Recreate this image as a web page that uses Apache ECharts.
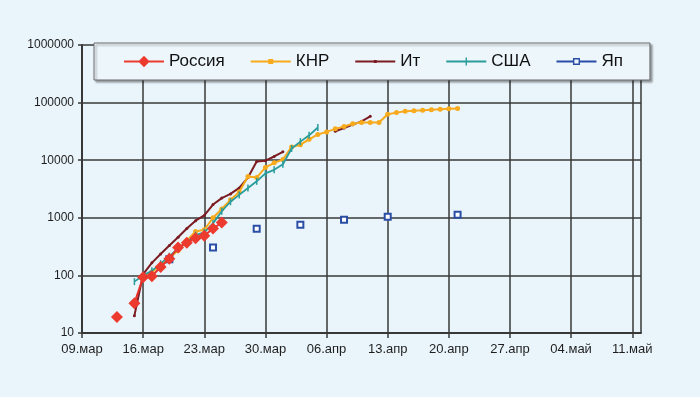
<!DOCTYPE html>
<html>
<head>
<meta charset="utf-8">
<script src="https://cdn.jsdelivr.net/npm/echarts@6/dist/echarts.min.js"></script>
<style>
  html, body { margin: 0; padding: 0; background: #eaf5fb; }
  #chart { width: 700px; height: 397px; }
</style>
</head>
<body>
<div id="chart"></div>
<script>
// x = days since 09.мар
const xTickLabels = ["09.мар", "16.мар", "23.мар", "30.мар", "06.апр", "13.апр", "20.апр", "27.апр", "04.май", "11.май"];
const seriesNames = ["Россия", "КНР", "Ит", "США", "Яп"];

const russiaStart = 4;
const russiaValues = [19, null, 33, 93, 97, 140, 195, 305, 370, 440, 490, 650, 830];

const chinaStart = 7;
const chinaValues = [90, 115, 150, 200, 270, 400, 580, 620, 1000, 1420, 2050, 2800, 5200, 5000, 7500, 9000, 10300,
  17000, 18600, 23000, 28000, 31000, 35000, 38500, 43000, 45000, 45300, 45000, 63000, 67000, 70500, 72500, 74000,
  75500, 77000, 78000, 79000];

const italyStart = 6;
const italyValues = [20, 105, 165, 235, 330, 460, 650, 890, 1100, 1700, 2200, 2600, 3300, 5000, 9500, 9800, 11600, 14000,
  null, null, null, null, null, 31700, 36300, 41400, 47300, 57800];

const usaStart = 6;
const usaValues = [78, 100, 120, 160, 215, 290, 380, 500, 560, 800, 1300, 1900, 2500, 3300, 4300, 5900, 6800, 8500,
  16000, 21000, 27000, 37000];

const japanDays = [10, 15, 20, 25, 30, 35, 43];
const japanValues = [190, 304, 644, 755, 923, 1040, 1127];

function toPairs(start, values) {
  return values.map((v, i) => [start + i, v == null ? "-" : v]);
}

// legend icons: line + marker, like the Excel legend
const lineBar = "M0,5.1H40V6.9H0Z";
const legendIcons = {
  "Россия": "path://" + lineBar + " M20,0.3L25.7,6L20,11.7L14.3,6Z",
  "КНР": "path://" + lineBar + " M17.5,3.5H22.5V8.5H17.5Z",
  "Ит": "path://" + lineBar + " M18.5,4.5H21.5V7.5H18.5Z",
  "США": "path://" + lineBar + " M19.3,2H20.7V10H19.3Z",
  "Яп": "path://M0,5.1H16.5V6.9H0Z M23.5,5.1H40V6.9H23.5Z M16.5,2.5H23.5V3.9H16.5Z M16.5,8.1H23.5V9.5H16.5Z M16.5,2.5H17.9V9.5H16.5Z M22.1,2.5H23.5V9.5H22.1Z"
};

const chart = echarts.init(document.getElementById("chart"));
const font = "Liberation Sans";
const gridColor = "#383838";

chart.setOption({
  animation: false,
  backgroundColor: "#eaf5fb",
  grid: {
    left: 82,
    right: 59,
    top: 45,
    bottom: 64,
    show: false
  },
  legend: {
    left: 94,
    top: 43,
    padding: [10, 27, 10, 30],
    itemGap: 26,
    itemWidth: 40,
    itemHeight: 12,
    backgroundColor: "#edf6fb",
    borderColor: "#6a6a6a",
    borderWidth: 1,
    shadowColor: "rgba(0,0,0,0.35)",
    shadowBlur: 2,
    shadowOffsetX: 2,
    shadowOffsetY: 2,
    itemStyle: { borderWidth: 0 },
    textStyle: { fontFamily: font, fontSize: 17, color: "#111" },
    data: seriesNames.map((name) => ({ name: name, icon: legendIcons[name] }))
  },
  xAxis: {
    type: "value",
    min: 0,
    max: 64,
    interval: 7,
    axisLine: { show: true, lineStyle: { color: gridColor, width: 2 } },
    axisTick: { show: true, length: 5, lineStyle: { color: gridColor, width: 1.5 } },
    splitLine: { show: true, lineStyle: { color: gridColor, width: 1.5 } },
    axisLabel: {
      fontFamily: font,
      fontSize: 13,
      color: "#1e1e1e",
      margin: 10,
      showMaxLabel: false,
      formatter: (v) => (v % 7 === 0 ? xTickLabels[v / 7] : "")
    }
  },
  yAxis: {
    type: "log",
    logBase: 10,
    min: 10,
    max: 1000000,
    axisLine: { show: true, lineStyle: { color: gridColor, width: 2 } },
    axisTick: { show: true, length: 4, lineStyle: { color: gridColor, width: 1.5 } },
    splitLine: { show: true, lineStyle: { color: gridColor, width: 1.5 } },
    axisLabel: {
      fontFamily: font,
      fontSize: 12,
      color: "#1e1e1e",
      margin: 8,
      formatter: (v) => String(Math.round(v))
    }
  },
  series: [
    {
      name: seriesNames[0],
      type: "line",
      z: 6,
      data: toPairs(russiaStart, russiaValues),
      symbol: "diamond",
      symbolSize: 12,
      lineStyle: { color: "#e8302a", width: 2 },
      itemStyle: { color: "#ec3a2e" }
    },
    {
      name: seriesNames[1],
      type: "line",
      z: 4,
      data: toPairs(chinaStart, chinaValues),
      symbol: "circle",
      symbolSize: 5,
      lineStyle: { color: "#f6aa1c", width: 2 },
      itemStyle: { color: "#f6aa1c" }
    },
    {
      name: seriesNames[2],
      type: "line",
      z: 3,
      data: toPairs(italyStart, italyValues),
      symbol: "circle",
      symbolSize: 3,
      lineStyle: { color: "#7a1c22", width: 2 },
      itemStyle: { color: "#7a1c22" }
    },
    {
      name: seriesNames[3],
      type: "line",
      z: 5,
      data: toPairs(usaStart, usaValues),
      symbol: "rect",
      symbolSize: [1.5, 7],
      lineStyle: { color: "#2a9c9c", width: 1.8 },
      itemStyle: { color: "#2a9c9c" }
    },
    {
      name: seriesNames[4],
      type: "line",
      z: 5,
      data: japanDays.map((d, i) => [d, japanValues[i]]),
      symbol: "emptyRect",
      symbolSize: 6,
      lineStyle: { opacity: 0 },
      itemStyle: { color: "#2a4ea6", borderWidth: 1.5 }
    }
  ]
});
</script>
</body>
</html>
